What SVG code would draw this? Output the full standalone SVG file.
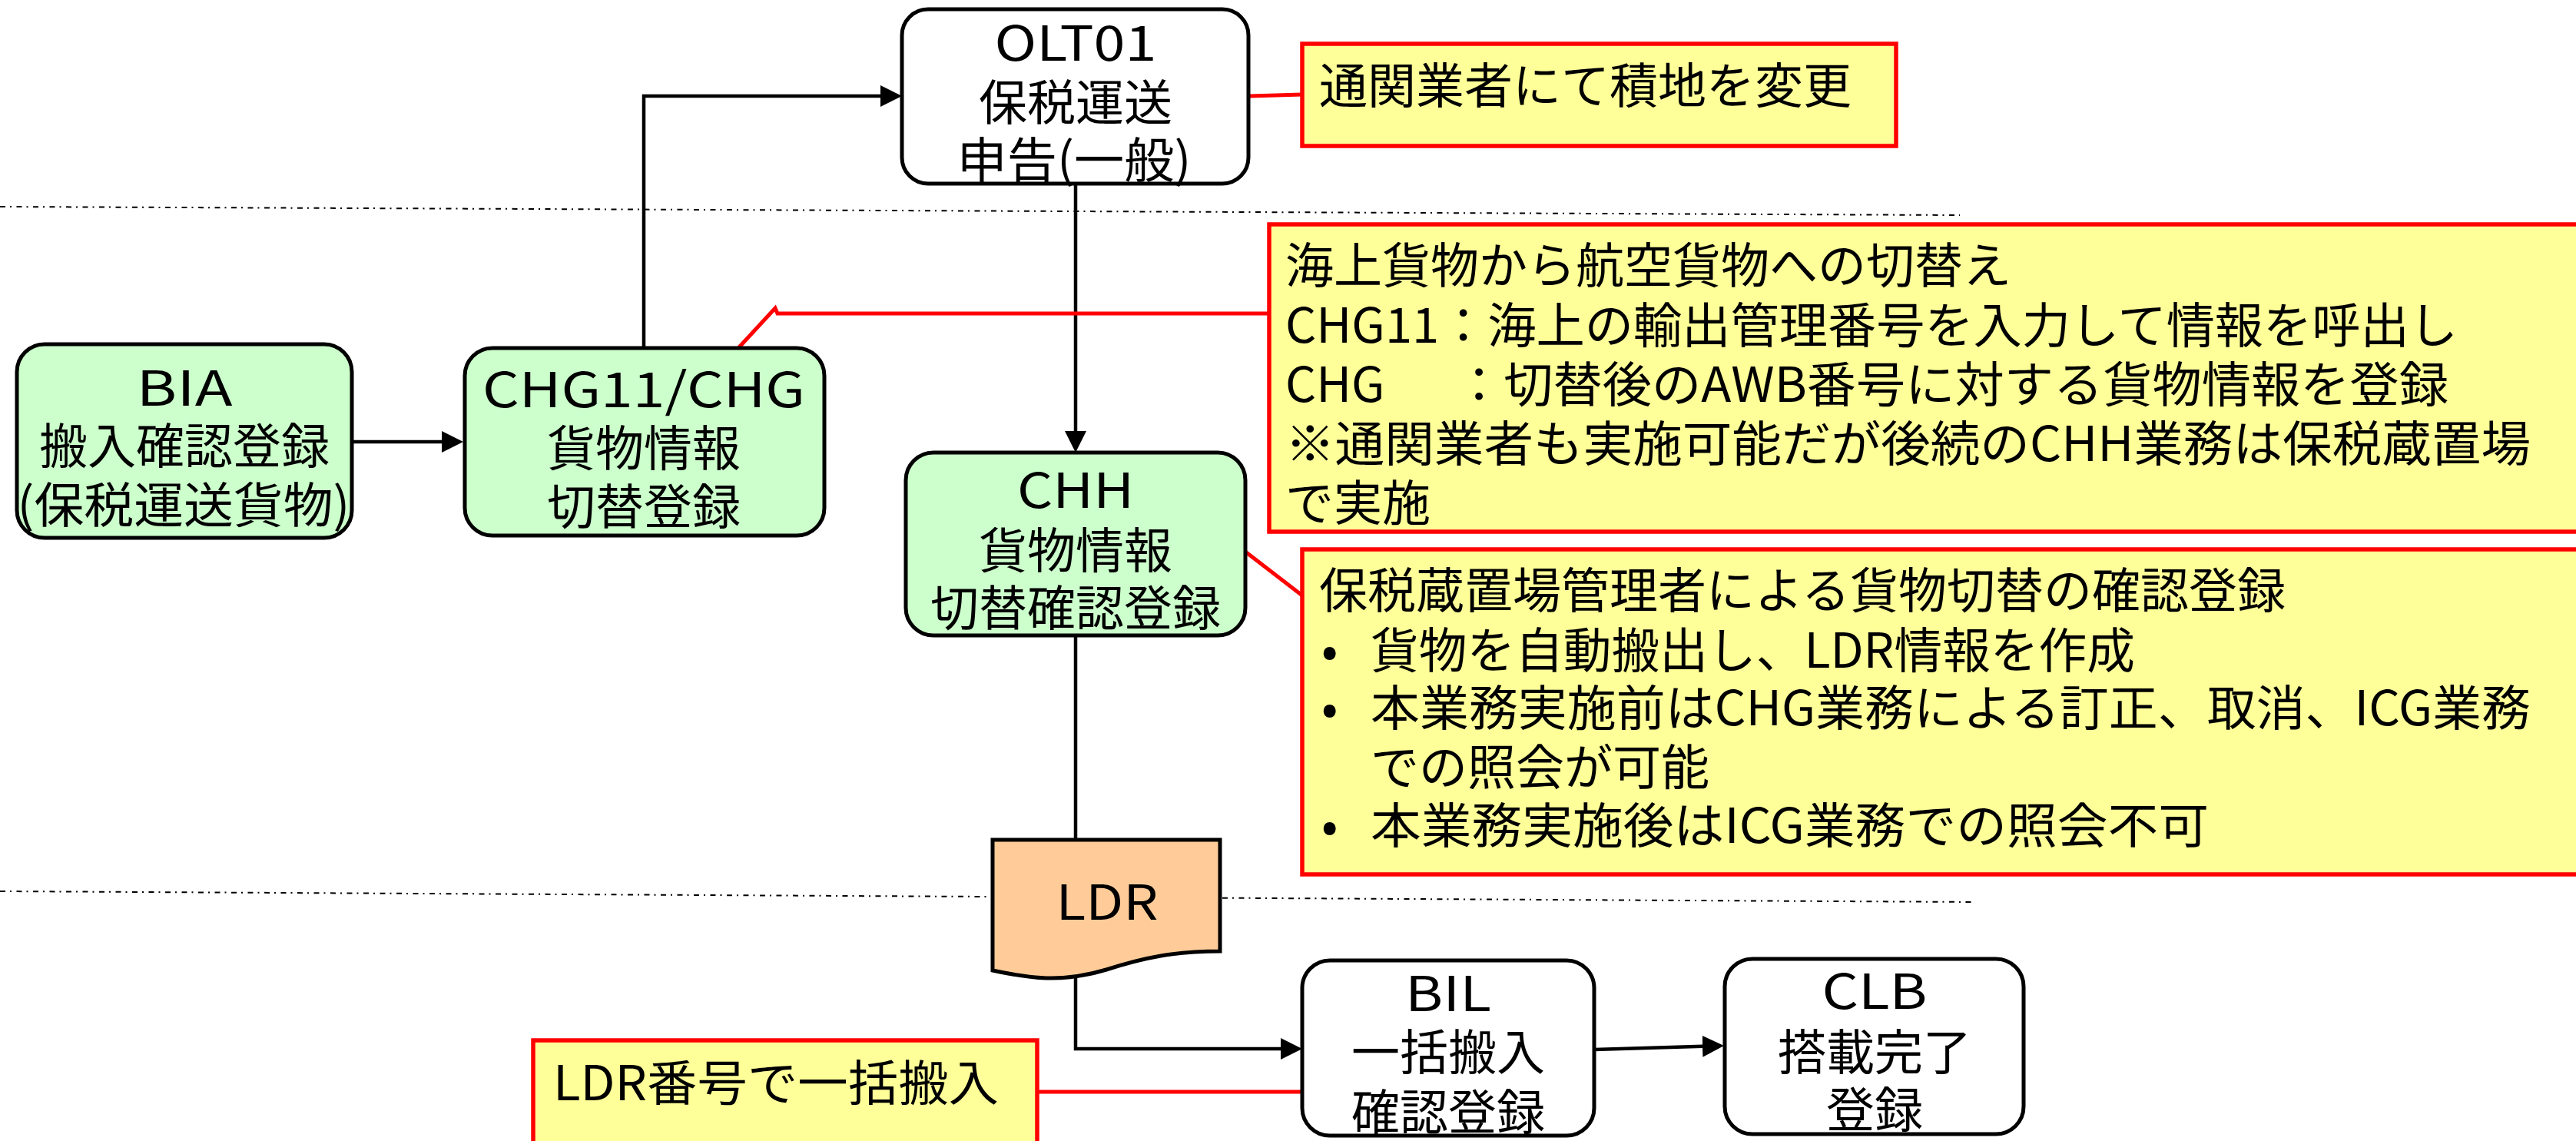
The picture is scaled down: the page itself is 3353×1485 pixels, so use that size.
<svg xmlns="http://www.w3.org/2000/svg" width="3353" height="1485" viewBox="0 0 3353 1485">
<style>
text{font-family:"Noto Sans CJK JP","Noto Sans",sans-serif;font-size:63px;fill:#000}
.c{text-anchor:middle}
.node{stroke:#000;stroke-width:5}
.green{fill:#CCFFCC}
.white{fill:#FFFFFF}
.note{fill:#FFFF99;stroke:#FF0000;stroke-width:5.5}
.conn{fill:none;stroke:#000;stroke-width:4.5}
.red{fill:none;stroke:#FF0000;stroke-width:5}
.sep{fill:none;stroke:#000;stroke-width:2;stroke-dasharray:7 6 2 6.5}
</style>
<defs>
<marker id="arr" viewBox="0 0 10 10" refX="0" refY="5" markerUnits="userSpaceOnUse" markerWidth="28" markerHeight="29" orient="auto">
<path d="M0,0 L10,5 L0,10 z" fill="#000"/>
</marker>
</defs>
<g id="separators">
<line class="sep" x1="0" y1="269" x2="2551" y2="280"/>
<line class="sep" x1="0" y1="1160" x2="2570" y2="1174"/>
</g>
<g id="connectors">
<path class="conn" d="M458,575 H575" marker-end="url(#arr)"/>
<path class="conn" d="M838,453 V125 H1146" marker-end="url(#arr)"/>
<path class="conn" d="M1400,239 V561" marker-end="url(#arr)"/>
<path class="conn" d="M1400,827 V1093"/>
<path class="conn" d="M1400,1268 V1365 H1667" marker-end="url(#arr)"/>
<path class="conn" d="M2075,1366 L2216,1361.8" marker-end="url(#arr)"/>
<path class="red" d="M1627,125 L1695,123"/>
<path class="red" d="M1652,408 H1012 L1009,401 L961,453"/>
<path class="red" d="M1621,718 L1695,775"/>
<path class="red" d="M1350,1421 H1695"/>
</g>
<g id="OLT01">
<rect class="node white" x="1174" y="12" width="451" height="227" rx="34"/>
<text class="c"><tspan x="1400" y="79" textLength="211" lengthAdjust="spacingAndGlyphs">OLT01</tspan><tspan x="1400" y="156">保税運送</tspan><tspan x="1398" y="231" textLength="305" lengthAdjust="spacingAndGlyphs">申告(一般)</tspan></text>
</g>
<g id="BIA">
<rect class="node green" x="22" y="448" width="436" height="252" rx="36"/>
<text class="c"><tspan x="240" y="528" textLength="125" lengthAdjust="spacingAndGlyphs">BIA</tspan><tspan x="240" y="603">搬入確認登録</tspan><tspan x="239" y="680" textLength="433" lengthAdjust="spacingAndGlyphs">(保税運送貨物)</tspan></text>
</g>
<g id="CHG11">
<rect class="node green" x="605" y="453" width="468" height="244" rx="36"/>
<text class="c"><tspan x="838" y="530" textLength="420" lengthAdjust="spacingAndGlyphs">CHG11/CHG</tspan><tspan x="838" y="606">貨物情報</tspan><tspan x="838" y="682">切替登録</tspan></text>
</g>
<g id="CHH">
<rect class="node green" x="1179" y="589" width="442" height="238" rx="36"/>
<text class="c"><tspan x="1400" y="661" textLength="152" lengthAdjust="spacingAndGlyphs">CHH</tspan><tspan x="1400" y="739">貨物情報</tspan><tspan x="1400" y="814">切替確認登録</tspan></text>
</g>
<g id="LDR">
<path class="node" fill="#FFCC99" d="M1292,1093 H1588 V1238 C1530,1238 1490,1246 1440,1262 C1380,1280 1340,1273 1292,1263 Z"/>
<text class="c" x="1441" y="1197" textLength="133" lengthAdjust="spacingAndGlyphs">LDR</text>
</g>
<g id="BIL">
<rect class="node white" x="1695" y="1250" width="380" height="228" rx="36"/>
<text class="c"><tspan x="1885" y="1316" textLength="112" lengthAdjust="spacingAndGlyphs">BIL</tspan><tspan x="1885" y="1392">一括搬入</tspan><tspan x="1885" y="1470">確認登録</tspan></text>
</g>
<g id="CLB">
<rect class="node white" x="2245" y="1248" width="389" height="228" rx="36"/>
<text class="c"><tspan x="2440" y="1313" textLength="137" lengthAdjust="spacingAndGlyphs">CLB</tspan><tspan x="2440" y="1392">搭載完了</tspan><tspan x="2440" y="1467">登録</tspan></text>
</g>
<g id="note-olt01">
<rect class="note" x="1695" y="57" width="773" height="133"/>
<text x="1717" y="134">通関業者にて積地を変更</text>
</g>
<g id="note-chg">
<rect class="note" x="1652" y="292" width="1710" height="400"/>
<text><tspan x="1673" y="368">海上貨物から航空貨物への切替え</tspan><tspan x="1673" y="446" textLength="1526" lengthAdjust="spacingAndGlyphs">CHG11：海上の輸出管理番号を入力して情報を呼出し</tspan><tspan x="1673" y="523">CHG</tspan><tspan x="1893" y="523" textLength="1294" lengthAdjust="spacingAndGlyphs">：切替後のAWB番号に対する貨物情報を登録</tspan><tspan x="1673" y="600" textLength="1621" lengthAdjust="spacingAndGlyphs">※通関業者も実施可能だが後続のCHH業務は保税蔵置場</tspan><tspan x="1673" y="677">で実施</tspan></text>
</g>
<g id="note-chh">
<rect class="note" x="1695" y="715" width="1667" height="423"/>
<text><tspan x="1717" y="791">保税蔵置場管理者による貨物切替の確認登録</tspan><tspan x="1720" y="869">•</tspan><tspan x="1784" y="869" textLength="995" lengthAdjust="spacingAndGlyphs">貨物を自動搬出し、LDR情報を作成</tspan><tspan x="1720" y="944">•</tspan><tspan x="1784" y="944" textLength="1510" lengthAdjust="spacingAndGlyphs">本業務実施前はCHG業務による訂正、取消、ICG業務</tspan><tspan x="1784" y="1021">での照会が可能</tspan><tspan x="1720" y="1097">•</tspan><tspan x="1784" y="1097" textLength="1091" lengthAdjust="spacingAndGlyphs">本業務実施後はICG業務での照会不可</tspan></text>
</g>
<g id="note-bil">
<rect class="note" x="694" y="1354" width="656" height="150"/>
<text x="720" y="1432" textLength="580" lengthAdjust="spacingAndGlyphs">LDR番号で一括搬入</text>
</g>
</svg>
